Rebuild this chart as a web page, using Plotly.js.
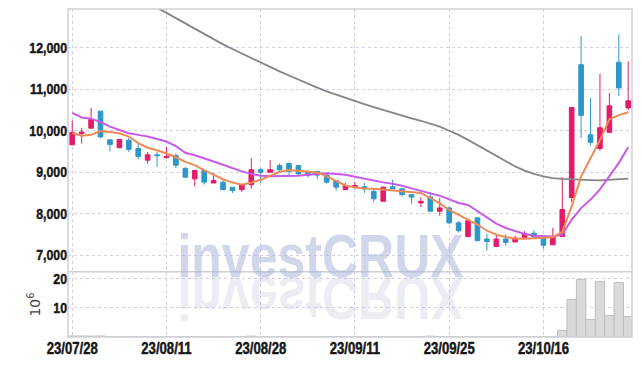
<!DOCTYPE html>
<html>
<head>
<meta charset="utf-8">
<script src="https://cdn.plot.ly/plotly-3.0.1.min.js"></script>
<style>html,body{margin:0;padding:0;background:#fff;}#chart{width:642px;height:366px;}</style>
</head>
<body>
<div id="chart"></div>
<script>
const dates = ["23/07/28","23/07/31","23/08/01","23/08/02","23/08/03","23/08/04","23/08/07","23/08/08","23/08/09","23/08/10",
"23/08/11","23/08/14","23/08/16","23/08/17","23/08/18","23/08/21","23/08/22","23/08/23","23/08/24","23/08/25",
"23/08/28","23/08/29","23/08/30","23/08/31","23/09/01","23/09/04","23/09/05","23/09/06","23/09/07","23/09/08",
"23/09/11","23/09/12","23/09/13","23/09/14","23/09/15","23/09/18","23/09/19","23/09/20","23/09/21","23/09/22",
"23/09/25","23/09/26","23/09/27","23/10/04","23/10/05","23/10/06","23/10/10","23/10/11","23/10/12","23/10/13",
"23/10/16","23/10/17","23/10/18","23/10/19","23/10/20","23/10/23","23/10/24","23/10/25","23/10/26","23/10/27"];
const openP = [9660,9930,10060,10470,9780,9590,9770,9570,9290,9420,
9350,9400,9090,8840,9040,8740,8760,8640,8580,8700,
9060,9000,9160,9210,9160,9020,9020,8930,8800,8580,
8640,8650,8540,8300,8650,8600,8460,8260,8400,8060,
8140,7780,7450,7900,7390,7210,7390,7320,7430,7530,
7410,7250,7450,8390,11590,9900,9570,9960,11650,10550];
const highP = [10250,10070,10550,10470,9780,9790,9830,9680,9490,9490,
9610,9450,9130,9040,9040,8980,8800,8640,8700,9340,
9100,9290,9210,9210,9160,9020,9020,8970,8800,8740,
8770,8740,8600,8650,8820,8600,8460,8400,8520,8380,
8180,7820,7840,7900,7520,7510,7510,7470,7580,7600,
7480,7660,8880,10560,12280,10790,11370,10910,12320,11670];
const lowP = [9660,9690,10050,9820,9500,9580,9490,9310,9210,9130,
9340,9100,8860,8660,8700,8740,8560,8500,8520,8600,
8740,9000,9020,8920,8920,8870,8840,8720,8560,8580,
8600,8500,8280,8290,8600,8420,8230,8160,8050,7950,
7750,7550,7450,7340,7110,7210,7230,7320,7430,7390,
7160,7250,7450,8280,9820,9640,9520,9960,10840,10490];
const closeP = [9960,9970,10270,9850,9670,9790,9550,9380,9420,9400,
9380,9170,8880,9040,8760,8800,8580,8560,8700,9060,
9000,9060,9060,9020,8960,8920,8930,8760,8640,8680,
8680,8600,8360,8640,8600,8460,8400,8300,8060,8140,
7780,7590,7830,7350,7330,7390,7310,7410,7520,7440,
7240,7450,8100,10560,10370,9720,10070,10600,11030,10720];
const volume = [0.35,0.35,0.3,0.35,0.05,0.04,0.05,0.04,0.05,0.04,
0.04,0.05,0.04,0.05,0.04,0.04,0.05,0.04,0.05,0.3,
0.05,0.04,0.05,0.04,0.04,0.05,0.04,0.05,0.04,0.04,
0.05,0.04,0.05,0.04,0.05,0.04,0.04,0.05,0.3,0.05,
0.04,0.05,0.04,0.05,0.04,0.05,0.04,0.05,0.04,0.05,
0.05,0.06,2.3,12.9,19.8,6.0,19.1,7.4,18.7,7.0];
const ma5 = [9945,9880,9900,9990,9970,9940,9860,9700,9590,9530,
9450,9360,9250,9170,9050,8930,8830,8750,8700,8750,
8820,8910,9010,9055,9035,9015,8995,8900,8780,8680,
8635,8605,8600,8580,8565,8537,8513,8500,8378,8250,
8090,7970,7870,7740,7590,7495,7440,7400,7395,7410,
7410,7435,7565,8175,8900,9340,9775,10275,10375,10445];
const ma10 = [10430,10320,10290,10210,10100,10020,9940,9900,9860,9800,
9740,9630,9470,9410,9340,9260,9180,9100,9020,8960,
8915,8900,8900,8905,8915,8940,8960,8975,8960,8940,
8890,8840,8800,8755,8720,8675,8610,8545,8490,8435,
8340,8260,8210,8055,7900,7760,7655,7575,7510,7470,
7455,7453,7495,7860,8135,8340,8585,8900,9225,9600];
const maLong = [null,null,null,null,null,null,null,null,13060,12960,
12840,12710,12580,12450,12320,12200,12080,11970,11860,11750,
11640,11540,11430,11330,11230,11130,11040,10950,10870,10790,
10710,10640,10570,10500,10430,10370,10300,10240,10170,10100,
10000,9900,9780,9650,9520,9390,9260,9140,9040,8960,
8900,8860,8840,8825,8815,8810,8805,8815,8830,8845];
const tickDates = ["23/07/28","23/08/11","23/08/28","23/09/11","23/09/25","23/10/16"];
const priceTicks = [7000,8000,9000,10000,11000,12000];
const volTicks = [10,20];

const RED = '#e31b6a', BLUE = '#2e97c9';
const FAM = '"Liberation Sans", Arial, sans-serif';
const tickFont = {family:FAM, size:15, color:'#161616', weight:'bold'};
const gridC = '#cfd0e2';

const data = [
  {type:'candlestick', x:dates, open:openP, high:highP, low:lowP, close:closeP,
   xaxis:'x', yaxis:'y', hoverinfo:'skip',
   increasing:{line:{color:RED,width:1}, fillcolor:RED},
   decreasing:{line:{color:BLUE,width:1}, fillcolor:BLUE}},
  {type:'scatter', mode:'lines', x:dates, y:maLong, line:{color:'#858585', width:1.8}, xaxis:'x', yaxis:'y', hoverinfo:'skip', connectgaps:false},
  {type:'scatter', mode:'lines', x:dates, y:ma10, line:{color:'#c95ae8', width:2}, xaxis:'x', yaxis:'y', hoverinfo:'skip'},
  {type:'scatter', mode:'lines', x:dates, y:ma5, line:{color:'#ef8a55', width:2}, xaxis:'x', yaxis:'y', hoverinfo:'skip'},
  {type:'bar', x:dates, y:volume, xaxis:'x', yaxis:'y2', hoverinfo:'skip',
   marker:{color:'#dadada', line:{color:'#bdbdbd', width:1}}}
];

const layout = {
  width:642, height:366,
  margin:{l:68, r:10, t:9, b:29},
  paper_bgcolor:'#ffffff', plot_bgcolor:'#ffffff',
  showlegend:false, bargap:0, boxgap:0.3,
  xaxis:{type:'category', anchor:'y2', range:[-0.45,59.4], rangeslider:{visible:false},
    tickmode:'array', tickvals:tickDates, ticktext:tickDates, ticks:'', tickfont:Object.assign({}, tickFont, {size:16}),
    showgrid:true, gridcolor:gridC, griddash:'dot', gridwidth:1, zeroline:false, showline:false},
  yaxis:{domain:[0.2,1], range:[6610,12933], tickmode:'array', tickvals:priceTicks, tickformat:',',
    ticks:'', tickfont:tickFont, showgrid:true, gridcolor:gridC, griddash:'dot', zeroline:false, showline:false},
  yaxis2:{domain:[0,0.198], range:[0,22.3], tickmode:'array', tickvals:volTicks,
    ticks:'', tickfont:tickFont, showgrid:true, gridcolor:gridC, griddash:'dot', zeroline:false, showline:false,
    title:{text:'10<sup>6</sup>', font:{family:'"DejaVu Sans", sans-serif', size:14, color:'#444'}, standoff:6}},
  shapes:[
    {type:'rect', xref:'paper', yref:'paper', x0:0, x1:1, y0:0, y1:1, line:{color:'#cfcfd6', width:1.5}},
    {type:'line', xref:'paper', yref:'paper', x0:0, x1:1, y0:0.199, y1:0.199, line:{color:'#cfcfd6', width:1.5}}
  ],
  annotations:[
    {text:'investCRUX', xref:'paper', yref:'paper', x:0.448, y:0.246, xanchor:'center', yanchor:'middle', showarrow:false,
     font:{family:FAM, size:61, color:'rgba(165,178,214,0.52)', weight:'bold'}},
    {text:'investCRUX', xref:'paper', yref:'paper', x:0.448, y:0.246, xanchor:'center', yanchor:'middle', showarrow:false,
     font:{family:FAM, size:61, color:'rgba(190,192,214,0.3)', weight:'bold'}}
  ]
};

function narrow(el, f) {
  const len = el.getComputedTextLength();
  if (len > 0) {
    el.setAttribute('textLength', (len * f).toFixed(2));
    el.setAttribute('lengthAdjust', 'spacingAndGlyphs');
  }
}

const gd = document.getElementById('chart');
Plotly.newPlot(gd, data, layout, {displayModeBar:false, staticPlot:true}).then(function(){
  gd.querySelectorAll('g.xtick text, g.ytick text, g.y2tick text').forEach(function(t){
    narrow(t, 0.82);
    t.style.stroke = '#161616';
    t.style.strokeWidth = '0.45px';
  });
  const anns = gd.querySelectorAll('g.annotation');
  anns.forEach(function(a){ const t = a.querySelector('text'); if (t) narrow(t, 0.82); });
  if (anns.length < 2) return;
  const mainT = anns[0].querySelector('text');
  const refl = anns[1];
  const svg = refl.ownerSVGElement;
  const sr = svg.getBoundingClientRect();
  const tr = mainT.getBoundingClientRect();
  const baseline = tr.bottom - 0.212*61 - sr.top;
  refl.setAttribute('transform', 'translate(0,' + (2*baseline) + ') scale(1,-1)');
});
</script>
</body>
</html>
